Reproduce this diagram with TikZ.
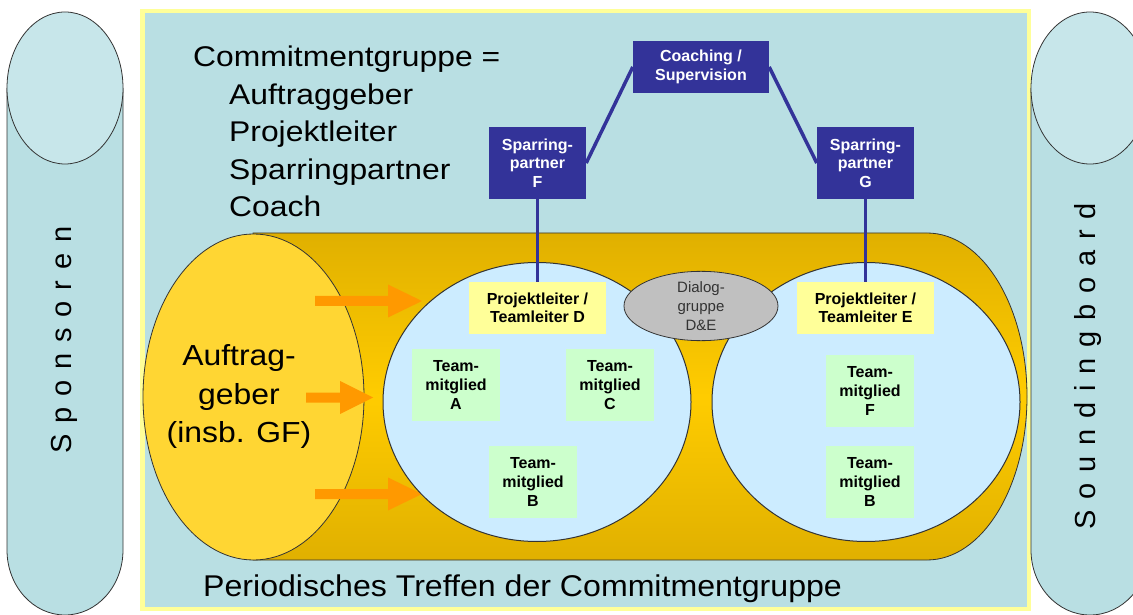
\documentclass[tikz,border=0pt]{standalone}
\usepackage{fontspec}
\setmainfont{Liberation Sans}
\usetikzlibrary{shapes.geometric}
\definecolor{frameblue}{HTML}{B9DFE3}
\definecolor{capsuletop}{HTML}{C7E6EA}
\definecolor{frameyellow}{HTML}{FFFF99}
\definecolor{goldA}{HTML}{E0B000}
\definecolor{goldB}{HTML}{FFCC00}
\definecolor{sunyellow}{HTML}{FFD633}
\definecolor{teamblue}{HTML}{CCECFF}
\definecolor{navy}{HTML}{333399}
\definecolor{paleyellow}{HTML}{FFFF99}
\definecolor{palegreen}{HTML}{CCFFCC}
\definecolor{dialoggray}{HTML}{C0C0C0}
\definecolor{arroworange}{HTML}{FF9900}
\definecolor{outlinegray}{HTML}{333333}
\newcommand\lsp{\kern10.8pt}
\newcommand\blockarr[4]{\fill[arroworange] ({#1},{#4+5}) -- ({#2},{#4+5}) -- ({#2},{#4+16.5}) -- ({#3},{#4}) -- ({#2},{#4-16.5}) -- ({#2},{#4-5}) -- ({#1},{#4-5}) -- cycle;}
\begin{document}
\begin{tikzpicture}[x=1pt,y=1pt,
  outl/.style={draw=outlinegray, line width=0.8pt},
  navybox/.style={rectangle, fill=navy, text=white, align=center, inner sep=0pt,
    font=\fontsize{16}{18.5}\selectfont\bfseries},
  leadbox/.style={rectangle, fill=paleyellow, align=center, inner sep=0pt,
    minimum width=137, minimum height=52, font=\fontsize{16}{18.5}\selectfont\bfseries},
  teambox/.style={rectangle, fill=palegreen, align=center, inner sep=0pt,
    minimum width=88, minimum height=72, font=\fontsize{16}{19}\selectfont\bfseries},
  dialog/.style={ellipse, draw=outlinegray, line width=0.8pt, fill=dialoggray, inner sep=0pt,
    minimum width=154, minimum height=68, align=center, text=outlinegray,
    font=\fontsize{15}{19}\selectfont},
  navyline/.style={draw=navy, line width=3.5pt},
  bigtext/.style={inner sep=0pt, font=\fontsize{28.5}{34}\selectfont},
  sidetext/.style={inner sep=0pt, rotate=90, font=\fontsize{29}{34}\selectfont}
]
\useasboundingbox (0,0) rectangle (1133,614);
% frame
\filldraw[fill=frameblue, draw=frameyellow, line width=4.5pt] (142.25,602.75) rectangle (1028.75,5.25);
% left capsule
\filldraw[fill=frameblue, outl] (7,526) -- (7,64) arc[start angle=180, end angle=360, x radius=58, y radius=65] -- (123,526);
\filldraw[fill=capsuletop, outl] (65,526) ellipse[x radius=58, y radius=76];
% right capsule
\filldraw[fill=frameblue, outl] (1031,526) -- (1031,64) arc[start angle=180, end angle=360, x radius=59, y radius=65] -- (1149,526);
\filldraw[fill=capsuletop, outl] (1090,526) ellipse[x radius=59, y radius=76];
% tube
\draw[outl, top color=goldA, bottom color=goldA, middle color=goldB]
  (253,381) -- (927,381) arc[start angle=90, end angle=-90, x radius=100, y radius=163.5] -- (253,54) -- cycle;
% Auftraggeber ellipse
\draw[outl, fill=sunyellow] (253.5,217) ellipse[x radius=110.5, y radius=163];
% arrows
\blockarr{315}{388}{422}{313}
\blockarr{306}{340}{373}{216.5}
\blockarr{315}{388}{422}{120}
% team circles
\draw[draw=outlinegray, line width=1pt, fill=teamblue] (537,212) ellipse[x radius=154, y radius=139.5];
\draw[draw=outlinegray, line width=1pt, fill=teamblue] (866,212) ellipse[x radius=154, y radius=139.5];
% dialog
\node[dialog] (dlg) at (701,308) {Dialog-\\gruppe\\D\&E};
% boxes
\node[navybox, minimum width=136, minimum height=52] (coach) at (701,547) {Coaching /\\Supervision};
\node[navybox, minimum width=97, minimum height=72] (spF) at (537.5,451) {Sparring-\\partner\\F};
\node[navybox, minimum width=97, minimum height=72] (spG) at (865.5,451) {Sparring-\\partner\\G};
\node[leadbox] (plD) at (537.5,306) {Projektleiter /\\Teamleiter D};
\node[leadbox] (plE) at (865.5,306) {Projektleiter /\\Teamleiter E};
\node[teambox] (tA) at (456,229) {Team-\\mitglied\\A};
\node[teambox] (tC) at (610,229) {Team-\\mitglied\\C};
\node[teambox] (tB) at (533,132.5) {Team-\\mitglied\\B};
\node[teambox] (tF) at (870,223) {Team-\\mitglied\\F};
\node[teambox] (tB2) at (870,132.5) {Team-\\mitglied\\B};
% connectors
\draw[navyline] (coach.west) -- (spF.east);
\draw[navyline] (coach.east) -- (spG.west);
\draw[navyline] (spF.south) -- (plD.north);
\draw[navyline] (spG.south) -- (plE.north);
% texts
\node[bigtext, anchor=base west] (cg0) at (193,547) {\scalebox{1.117}[1]{Commitmentgruppe =}};
\node[bigtext, anchor=base west] (cg1) at (229,509.5) {\scalebox{1.117}[1]{Auftraggeber}};
\node[bigtext, anchor=base west] (cg2) at (229,472) {\scalebox{1.117}[1]{Projektleiter}};
\node[bigtext, anchor=base west] (cg3) at (229,434.5) {\scalebox{1.117}[1]{Sparringpartner}};
\node[bigtext, anchor=base west] (cg4) at (229,397) {\scalebox{1.117}[1]{Coach}};
\node[bigtext, anchor=base, font=\fontsize{29}{34}\selectfont] (ag0) at (239,248) {\scalebox{1.1}[1]{Auftrag-}};
\node[bigtext, anchor=base, font=\fontsize{29}{34}\selectfont] (ag1) at (239,210) {\scalebox{1.1}[1]{geber}};
\node[bigtext, anchor=base, font=\fontsize{29}{34}\selectfont] (ag2) at (239,172) {\scalebox{1.1}[1]{(insb. GF)}};
\node[bigtext, anchor=base west, font=\fontsize{30}{34}\selectfont] (pt) at (203,18) {\scalebox{1.07}[1]{Periodisches Treffen der Commitmentgruppe}};
\node[sidetext] (spons) at (64,274) {S\lsp p\lsp o\lsp n\lsp s\lsp o\lsp r\lsp e\lsp n};
\node[sidetext] (sound) at (1088,248) {S\lsp o\lsp u\lsp n\lsp d\lsp i\lsp n\lsp g\lsp b\lsp o\lsp a\lsp r\lsp d};
\end{tikzpicture}
\end{document}
